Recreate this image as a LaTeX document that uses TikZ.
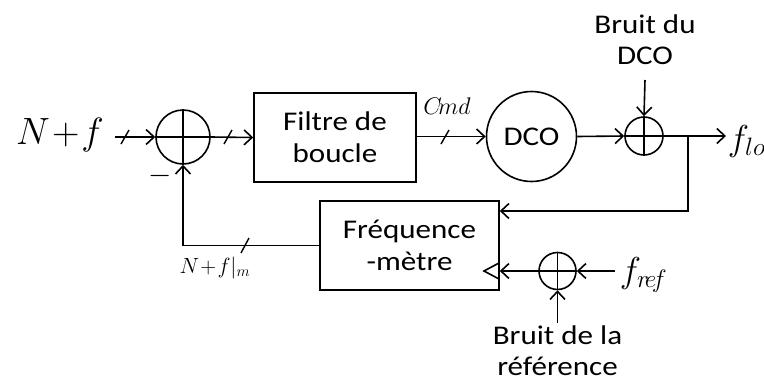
\RequirePackage{fix-cm}
\documentclass[tikz,border=0pt]{standalone}
\usepackage[no-math]{fontspec}
\setmainfont{Carlito}[FakeStretch=1.15]
\usetikzlibrary{arrows.meta}
\begin{document}
\begin{tikzpicture}[x=1pt,y=-1pt, line width=1.6pt,
  >={Straight Barb[length=8pt,width=15pt,line width=1.6pt]},
  blk/.style={draw, align=center, inner sep=0pt, font=\fontsize{27}{32}\selectfont},
  sumc/.style={circle, draw, inner sep=0pt},
  lbl/.style={inner sep=0pt, align=center, font=\fontsize{27}{31}\selectfont},
  slash/.style={line width=1.4pt}]
\useasboundingbox (0,0) rectangle (764,383);

% blocks
\node[sumc, minimum size=54pt] (s1) at (183,137) {};
\node[blk, minimum width=162pt, minimum height=89pt] (filt) at (335,137.5) {Filtre de\\boucle};
\node[blk, circle, minimum size=90pt] (dco) at (531.5,136.5) {DCO};
\node[sumc, minimum size=38pt] (s2) at (644,136) {};
\node[blk, minimum width=179pt, minimum height=89pt] (freq) at (409.5,245.5) {Fréquence\\-mètre};
\node[sumc, minimum size=37pt] (s3) at (557.5,271) {};

% plus signs
\foreach \s in {s1,s2,s3}{
  \draw (\s.north) -- (\s.south);
  \draw (\s.west) -- (\s.east);
}

% labels
\node[inner sep=0pt, font=\fontsize{38}{40}\selectfont] (in) at (60,135) {$N\!+\!f$};
\node[inner sep=0pt, anchor=west, font=\fontsize{36}{40}\selectfont] (flo) at (727,141) {$f_{lo}$};
\node[inner sep=0pt, anchor=west, font=\fontsize{36}{40}\selectfont] (fref) at (619,275) {$f_{r\!e\!f}$};
\node[inner sep=0pt, font=\fontsize{24}{26}\selectfont] (cmd) at (447,106) {$C\!md$};
\node[inner sep=0pt, font=\fontsize{22}{24}\selectfont] (nfm) at (215,268) {$N\!+\!f|_m$};
\node[lbl] (bdco) at (645,40) {Bruit du\\DCO};
\node[lbl, font=\fontsize{27}{31}\selectfont] (bref) at (557.5,351) {Bruit de la\\référence};
\node[inner sep=0pt, font=\fontsize{30}{30}\selectfont] (minus) at (160,176) {$-$};

% coordinates
\coordinate (inS) at (115,137);
\coordinate (br) at (688,136);
\coordinate (flt) at (726,136);
\coordinate (frs) at (615,271);

% connectors
\draw[->] (inS) -- (s1.west);
\draw[->] (s1.east) -- (filt.west);
\draw[->] (filt.east |- dco.west) -- (dco.west);
\draw[->] (dco.east) -- (s2.west);
\draw[->] (s2.east) -- (flt);
\draw[->] (br) |- (freq.east |- 0,211);
\draw[->] (bdco.south |- 0,80) -- (s2.north);
\draw[->] (frs) -- (s3.east);
\draw[->] (s3.west) -- (freq.east |- s3.west);
\draw[->] (bref.north |- 0,323) -- (s3.south);
\draw[->] (freq.west) -| (s1.south);

% clock triangle
\draw (499,263) -- (484,271) -- (499,279);

% bus slashes
\draw[slash] (121,144) -- (129,130);
\draw[slash] (224,144) -- (232,130);
\draw[slash] (441,144) -- (449,130);
\draw[slash] (241,253) -- (249,238);
\end{tikzpicture}
\end{document}
